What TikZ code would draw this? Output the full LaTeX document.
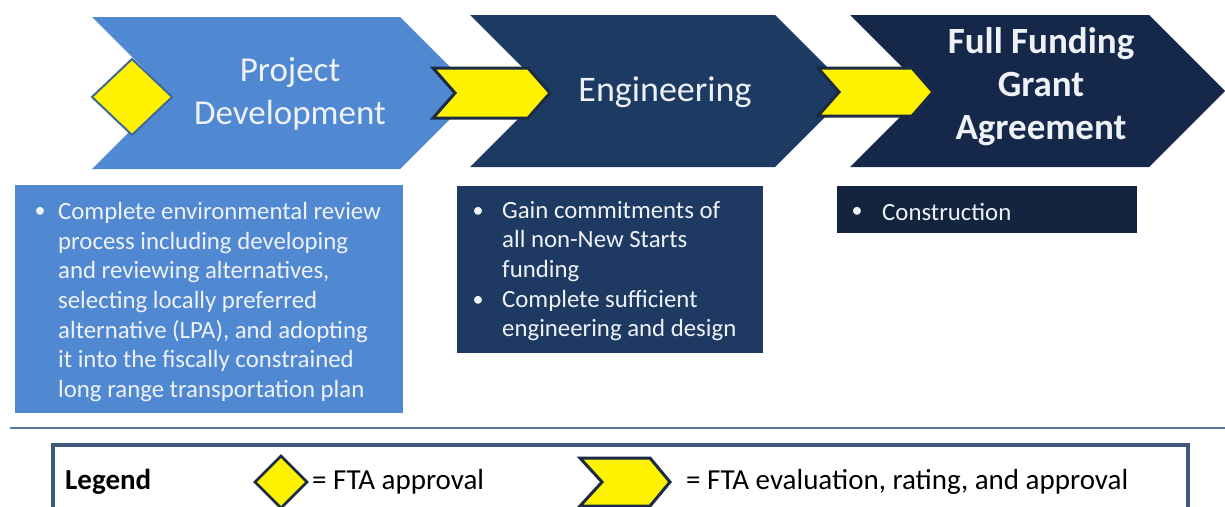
\documentclass[tikz,border=0pt]{standalone}
\usepackage{fontspec}
\setmainfont{Carlito}
\definecolor{lblue}{HTML}{5089D2}
\definecolor{mnavy}{HTML}{1D3A63}
\definecolor{dnavy}{HTML}{15284A}
\definecolor{bnavy}{HTML}{1E3A62}
\definecolor{cnavy}{HTML}{13243F}
\definecolor{wtxt}{HTML}{EEF2F7}
\definecolor{yel}{HTML}{FFF200}
\definecolor{youtline}{HTML}{1B2B45}
\definecolor{dmdline}{HTML}{3F6A98}
\definecolor{sepc}{HTML}{5C7893}
\definecolor{legbord}{HTML}{3F5A78}
\tikzset{
  headtxt/.style={text=wtxt, inner sep=0pt, align=center, font=\fontsize{35}{43}\selectfont},
  bodytxt/.style={text=wtxt, inner sep=0pt, align=left, anchor=west, font=\fontsize{24.8}{29.7}\selectfont},
  bullettxt/.style={text=wtxt, inner sep=0pt, font=\fontsize{22}{29.7}\selectfont},
  yelchev/.style={fill=yel, draw=youtline, line width=3pt, line join=miter},
  legtxt/.style={text=black, inner sep=0pt, anchor=west, font=\fontsize{29}{34}\selectfont}
}
\begin{document}
\begin{tikzpicture}[x=1pt,y=-1pt]
\useasboundingbox (0,0) rectangle (1225,506);
\clip (0,0) rectangle (1225,506);
% chevrons
\fill[lblue] (92,17) -- (400,17) -- (476,93) -- (400,169) -- (92,169) -- (168,93) -- cycle;
\fill[mnavy] (470,15) -- (775,15) -- (851,91) -- (775,167) -- (470,167) -- (546,91) -- cycle;
\fill[dnavy] (850,15) -- (1149,15) -- (1225,91) -- (1149,167) -- (850,167) -- (926,91) -- cycle;
% approval diamond
\filldraw[fill=yel, draw=dmdline, line width=2pt] (92,97) -- (132,59) -- (172,97) -- (132,135) -- cycle;
% evaluation chevrons
\filldraw[yelchev] (433,68) -- (528,68) -- (550,93) -- (528,118) -- (433,118) -- (455,93) -- cycle;
\filldraw[yelchev] (818,68) -- (912,68) -- (933,92) -- (912,116) -- (818,116) -- (839,92) -- cycle;
% headings
\node[headtxt] (pd) at (290,94) {Project\\Development};
\node[headtxt, font=\fontsize{36}{43}\selectfont] (eng) at (665,92) {Engineering};
\node[headtxt, font=\bfseries\fontsize{37}{43}\selectfont] (ffga) at (1041,87) {Full Funding\\Grant\\Agreement};
% boxes
\fill[lblue] (15,185) rectangle (403,413);
\fill[bnavy] (457,186) rectangle (763,353);
\fill[cnavy] (837,186) rectangle (1137,233);
\node[bullettxt] (b1) at (40,212) {•};
\node[bodytxt] (t1) at (58,302) {Complete environmental review\\process including developing\\and reviewing alternatives,\\selecting locally preferred\\alternative (LPA), and adopting\\it into the fiscally constrained\\long range transportation plan};
\node[bullettxt] (b2) at (478,212) {•};
\node[bullettxt] (b3) at (478,301) {•};
\node[bodytxt] (t2) at (502,271) {Gain commitments of\\all non-New Starts\\funding\\Complete sufficient\\engineering and design};
\node[bullettxt] (b4) at (857,212) {•};
\node[bodytxt] (t3) at (882,212) {Construction};
% separator
\draw[sepc, line width=2.5pt] (10,428) -- (1225,428);
% legend
\draw[legbord, line width=4pt, fill=white] (53,445) rectangle (1188,540);
\node[legtxt, font=\bfseries\fontsize{29}{34}\selectfont] (leg) at (65,482) {Legend};
\filldraw[fill=yel, draw=youtline, line width=2.5pt] (255,482) -- (281,456) -- (307,482) -- (281,508) -- cycle;
\node[legtxt] (la) at (312,482) {= FTA approval};
\filldraw[yelchev] (580,458) -- (650,458) -- (670,482) -- (650,506) -- (580,506) -- (602,482) -- cycle;
\node[legtxt] (le) at (686,482) {= FTA evaluation, rating, and approval};
\end{tikzpicture}
\end{document}
